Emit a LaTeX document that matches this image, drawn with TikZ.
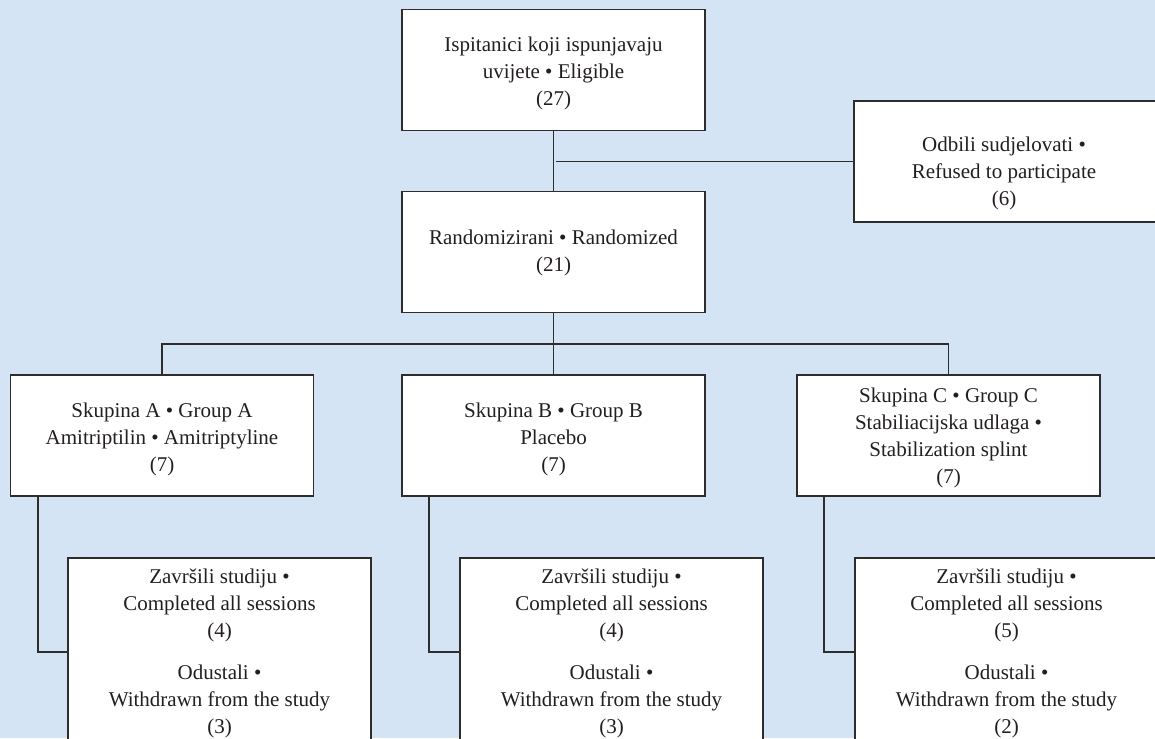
\documentclass[tikz,border=0pt]{standalone}
\usepackage{fontspec}
\setmainfont{Liberation Serif}
\definecolor{bg}{RGB}{212,228,244}
\definecolor{ln}{RGB}{45,45,45}
\definecolor{tx}{RGB}{35,31,32}
\begin{document}
\begin{tikzpicture}[x=1pt,y=-1pt,
  box/.style={draw=ln,line width=1.2pt,fill=white,inner sep=0pt,minimum width=303pt,minimum height=121pt},
  tallbox/.style={box,minimum height=200pt},
  txt/.style={align=center,inner sep=0pt,font=\fontsize{21}{27}\selectfont,text=tx},
  conn/.style={draw=ln,line width=1.2pt}]
\clip (0,0) rectangle (1155,738);
\fill[bg] (0,0) rectangle (1155,738);
% boxes
\node[box] (top) at (553.5,69.75) {};
\node[box] (ref) at (1005.5,161.5) {};
\node[box] (rand) at (553.5,252) {};
\node[box] (ga) at (162,435.5) {};
\node[box] (gb) at (553.5,435.5) {};
\node[box] (gc) at (948.5,435.5) {};
\node[tallbox] (ca) at (219.5,658) {};
\node[tallbox] (cb) at (611.5,658) {};
\node[tallbox] (cc) at (1006.5,658) {};
% texts
\node[txt] (toptxt) at (553.5,73) {Ispitanici koji ispunjavaju\\uvijete • Eligible\\(27)};
\node[txt] (reftxt) at (1004,173) {Odbili sudjelovati •\\Refused to participate\\(6)};
\node[txt] (randtxt) at (553.5,252.5) {Randomizirani • Randomized\\(21)};
\node[txt] (gatxt) at (162,439) {Skupina A • Group A\\Amitriptilin • Amitriptyline\\(7)};
\node[txt] (gbtxt) at (553.5,439) {Skupina B • Group B\\Placebo\\(7)};
\node[txt] (gctxt) at (948.5,438) {Skupina C • Group C\\Stabiliacijska udlaga •\\Stabilization splint\\(7)};
\node[txt] (catxt) at (219.5,653.5) {Završili studiju •\\Completed all sessions\\(4)\\[15pt]Odustali •\\Withdrawn from the study\\(3)};
\node[txt] (cbtxt) at (611.5,653.5) {Završili studiju •\\Completed all sessions\\(4)\\[15pt]Odustali •\\Withdrawn from the study\\(3)};
\node[txt] (cctxt) at (1006.5,653.5) {Završili studiju •\\Completed all sessions\\(5)\\[15pt]Odustali •\\Withdrawn from the study\\(2)};
% connectors
\coordinate (j1) at (556,161.5);
\coordinate (br) at (553.5,344);
\draw[conn] (top.south) -- (rand.north);
\draw[conn] (j1) -- (ref.west);
\draw[conn] (rand.south) -- (br);
\draw[conn] (ga.north) |- (br) -| (gc.north);
\draw[conn] (br) -- (gb.north);
\draw[conn] ([xshift=-124pt]ga.south) |- ([yshift=6pt]ca.west);
\draw[conn] ([xshift=-124.5pt]gb.south) |- ([yshift=6pt]cb.west);
\draw[conn] ([xshift=-124.5pt]gc.south) |- ([yshift=6pt]cc.west);
\end{tikzpicture}
\end{document}
